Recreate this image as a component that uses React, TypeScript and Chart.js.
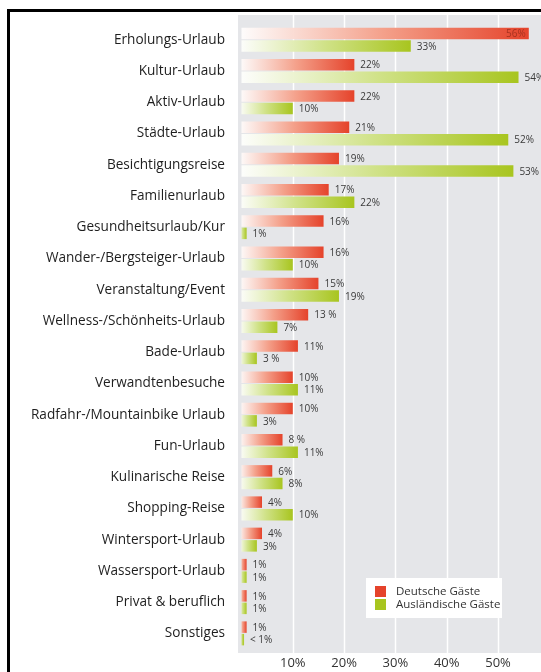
import React, { useEffect, useRef } from "react";
import { Chart, registerables } from "chart.js";

Chart.register(...registerables);

const categories = [
  "Erholungs-Urlaub",
  "Kultur-Urlaub",
  "Aktiv-Urlaub",
  "Städte-Urlaub",
  "Besichtigungsreise",
  "Familienurlaub",
  "Gesundheitsurlaub/Kur",
  "Wander-/Bergsteiger-Urlaub",
  "Veranstaltung/Event",
  "Wellness-/Schönheits-Urlaub",
  "Bade-Urlaub",
  "Verwandtenbesuche",
  "Radfahr-/Mountainbike Urlaub",
  "Fun-Urlaub",
  "Kulinarische Reise",
  "Shopping-Reise",
  "Wintersport-Urlaub",
  "Wassersport-Urlaub",
  "Privat & beruflich",
  "Sonstiges",
];

const germanValues = [56, 22, 22, 21, 19, 17, 16, 16, 15, 13, 11, 10, 10, 8, 6, 4, 4, 1, 1, 1];
const foreignValues = [33, 54, 10, 52, 53, 22, 1, 10, 19, 7, 3, 11, 3, 11, 8, 10, 3, 1, 1, 0.5];

const germanLabels = ["56%", "22%", "22%", "21%", "19%", "17%", "16%", "16%", "15%", "13 %", "11%", "10%", "10%", "8 %", "6%", "4%", "4%", "1%", "1%", "1%"];
const foreignLabels = ["33%", "54%", "10%", "52%", "53%", "22%", "1%", "10%", "19%", "7%", "3 %", "11%", "3%", "11%", "8%", "10%", "3%", "1%", "1%", "< 1%"];

const xTicks = [10, 20, 30, 40, 50];

const seriesNames = ["Deutsche Gäste", "Ausländische Gäste"];
const seriesColors = ["#e5432b", "#a8c51f"];
const seriesMid = ["#f4a08a", "#d0e288"];

const FONT = "'Open Sans', 'Noto Sans', sans-serif";

function makeGradient(ctx: any, colorIdx: number) {
  const chart = ctx.chart;
  const xs = chart.scales?.x;
  if (!xs || ctx.type !== "data") return seriesColors[colorIdx];
  const v = ctx.raw as number;
  const x0 = xs.getPixelForValue(0) - 3;
  const x1 = xs.getPixelForValue(v);
  if (!isFinite(x0) || !isFinite(x1) || x1 - x0 < 1) return seriesColors[colorIdx];
  const g = chart.ctx.createLinearGradient(x0, 0, x1, 0);
  g.addColorStop(0, "rgba(255,255,255,0.95)");
  g.addColorStop(0.5, seriesMid[colorIdx]);
  g.addColorStop(1, seriesColors[colorIdx]);
  return g;
}

const backgroundPlugin = {
  id: "bgPlugin",
  beforeDraw(chart: any) {
    const { ctx, chartArea } = chart;
    const xs = chart.scales.x;
    const top = chartArea.top - 9;
    const bottom = chartArea.bottom + 4;
    ctx.save();
    ctx.fillStyle = "#e5e6e9";
    ctx.fillRect(chartArea.left, top, chartArea.right - chartArea.left, bottom - top);
    ctx.strokeStyle = "#ffffff";
    ctx.lineWidth = 1.5;
    xTicks.forEach((t) => {
      const x = Math.round(xs.getPixelForValue(t)) + 0.5;
      ctx.beginPath();
      ctx.moveTo(x, top);
      ctx.lineTo(x, bottom);
      ctx.stroke();
    });
    ctx.restore();
  },
};

const labelPlugin = {
  id: "labelPlugin",
  afterDatasetsDraw(chart: any) {
    const { ctx, chartArea } = chart;
    const labelSets = [germanLabels, foreignLabels];
    ctx.save();
    ctx.font = `10px ${FONT}`;
    ctx.textBaseline = "middle";
    chart.data.datasets.forEach((ds: any, di: number) => {
      const meta = chart.getDatasetMeta(di);
      meta.data.forEach((el: any, i: number) => {
        const txt = labelSets[di][i];
        const w = ctx.measureText(txt).width;
        if (el.x + 6 + w > chartArea.right + 8) {
          ctx.textAlign = "right";
          ctx.fillStyle = "#a8321f";
          ctx.fillText(txt, el.x - 3, el.y + 1);
        } else {
          ctx.textAlign = "left";
          ctx.fillStyle = "#3a3a3a";
          ctx.fillText(txt, el.x + 6, el.y + 1);
        }
      });
    });
    ctx.restore();
  },
};

const legendPlugin = {
  id: "legendPlugin",
  afterDraw(chart: any) {
    const { ctx, chartArea } = chart;
    const bx = chartArea.right - 175;
    const by = chartArea.bottom - 71;
    const bw = 136;
    const bh = 40;
    ctx.save();
    ctx.fillStyle = "#ffffff";
    ctx.fillRect(bx, by, bw, bh);
    ctx.font = `11.5px ${FONT}`;
    ctx.textBaseline = "middle";
    ctx.textAlign = "left";
    chart.data.datasets.forEach((ds: any, i: number) => {
      const y = by + 8 + i * 13;
      ctx.fillStyle = seriesColors[i];
      ctx.fillRect(bx + 9, y, 11, 11);
      ctx.fillStyle = "#333333";
      ctx.fillText(ds.label, bx + 30, y + 5.5);
    });
    ctx.restore();
  },
};

export default function App() {
  const canvasRef = useRef<HTMLCanvasElement | null>(null);

  useEffect(() => {
    if (!canvasRef.current) return;
    const chart = new Chart(canvasRef.current, {
      type: "bar",
      data: {
        labels: categories,
        datasets: [
          {
            label: seriesNames[0],
            data: germanValues,
            backgroundColor: (ctx: any) => makeGradient(ctx, 0),
            borderWidth: 0,
          },
          {
            label: seriesNames[1],
            data: foreignValues,
            backgroundColor: (ctx: any) => makeGradient(ctx, 1),
            borderWidth: 0,
          },
        ],
      },
      options: {
        indexAxis: "y",
        responsive: false,
        animation: false,
        maintainAspectRatio: false,
        layout: { padding: { top: 12, left: 0, right: 0, bottom: 0 } },
        datasets: {
          bar: { barPercentage: 0.92, categoryPercentage: 0.8 },
        },
        plugins: {
          legend: { display: false },
          tooltip: { enabled: false },
        },
        scales: {
          x: {
            min: -0.68,
            max: 58.38,
            grid: { display: false, drawTicks: false },
            border: { display: false },
            afterBuildTicks: (scale: any) => {
              scale.ticks = xTicks.map((v) => ({ value: v }));
            },
            afterFit: (scale: any) => {
              scale.height = 23;
              scale.paddingLeft = 0;
              scale.paddingRight = 0;
            },
            ticks: {
              padding: 6,
              color: "#333333",
              font: { family: FONT, size: 13 },
              callback: (v: any) => `${v}%`,
            },
          },
          y: {
            grid: { display: false, drawTicks: false },
            border: { display: false },
            afterFit: (scale: any) => {
              scale.width = 228;
              scale.paddingTop = 0;
              scale.paddingBottom = 0;
            },
            ticks: {
              padding: 13,
              color: "#1e1e1e",
              font: { family: FONT, size: 13.6 },
              autoSkip: false,
            },
          },
        },
      },
      plugins: [backgroundPlugin, labelPlugin, legendPlugin],
    } as any);
    return () => chart.destroy();
  }, []);

  return (
    <div
      style={{
        position: "fixed",
        left: 7,
        top: 9,
        borderLeft: "3px solid #000",
        borderTop: "3px solid #000",
        width: 531,
        height: 660,
        background: "#fff",
      }}
    >
      <canvas ref={canvasRef} width={531} height={660} style={{ display: "block", width: 531, height: 660 }} />
    </div>
  );
}
